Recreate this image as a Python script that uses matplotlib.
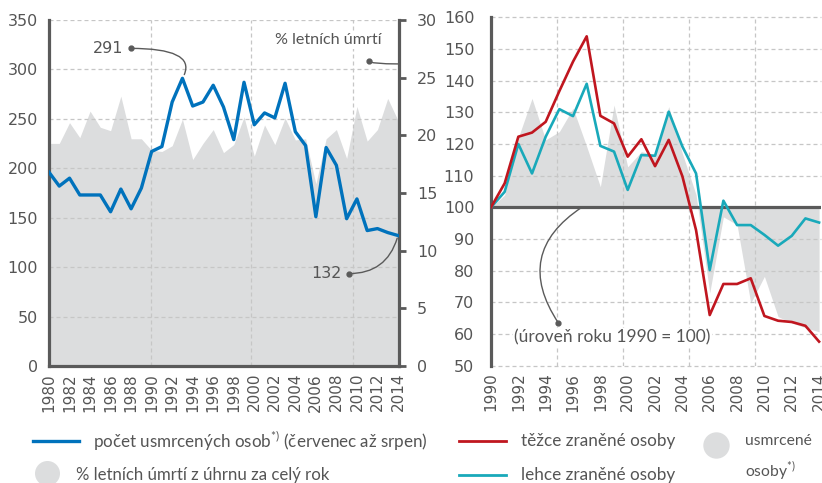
import matplotlib
matplotlib.use('Agg')
import matplotlib.pyplot as plt
from matplotlib.lines import Line2D

# ---------------- data ----------------
years_left = list(range(1980, 2015))
deaths_summer = [196, 182, 190, 173, 173, 173, 156, 179, 159, 180,
                 217, 222, 267, 291, 263, 267, 284, 262, 229, 287,
                 244, 256, 251, 286, 237, 223, 151, 221, 203, 149,
                 169, 137, 139, 135, 132]
pct_summer = [19.3, 19.3, 21.1, 19.8, 22.1, 20.7, 20.4, 23.4, 19.7, 19.7,
              18.7, 18.6, 19.1, 21.4, 17.9, 19.3, 20.5, 18.5, 19.2, 21.6,
              18.2, 20.9, 19.2, 21.5, 19.6, 19.7, 15.8, 19.7, 20.5, 18.0,
              22.5, 19.5, 20.5, 23.2, 21.3]

years_right = list(range(1990, 2015))
severe_idx = [100, 107.6, 122.3, 123.6, 127, 136.7, 146, 154, 128.9, 126.5,
              116, 121.5, 113, 121.3, 109.8, 92.8, 66, 75.8, 75.8, 77.6,
              65.7, 64.2, 63.8, 62.6, 57.6]
light_idx = [100, 104.9, 120, 110.7, 122.3, 131, 128.8, 139, 119.4, 117.6,
             105.5, 116.5, 116.3, 130.2, 119.2, 110.7, 80.2, 102.1, 94.4, 94.4,
             91.3, 87.9, 91, 96.5, 95.2]
killed_idx = [100, 103.9, 122, 134.4, 121.3, 123.9, 131.3, 119.2, 106.5, 132.3,
              112.8, 117.6, 116.5, 131.8, 117, 104, 73, 97, 94.5, 69.8,
              78.2, 65.5, 63.5, 62, 60.7]

left_yticks = list(range(0, 351, 50))
right2_yticks = list(range(0, 31, 5))
right_yticks = list(range(50, 161, 10))

# ---------------- style ----------------
W, H = 822, 483
TXT = '#555555'
SPINE = '#5a5a5a'
GRID = '#c6c6c6'
FILL = '#dcddde'
BLUE = '#0072bc'
RED = '#c0161f'
TEAL = '#19a9ba'
TEXTFONT = ['Lato', 'DejaVu Sans']
plt.rcParams['font.family'] = ['DejaVu Sans']
DASH = (0, (3.2, 2.4))

fig = plt.figure(figsize=(W / 100, H / 100), dpi=100)


def px_rect(x0, y_top, x1, y_bot):
    return [x0 / W, (H - y_bot) / H, (x1 - x0) / W, (y_bot - y_top) / H]


# ================= left chart =================
ax = fig.add_axes(px_rect(49, 20, 399, 366))
ax2 = ax.twinx()
ax.set_zorder(ax2.get_zorder() + 1)
ax.patch.set_visible(False)

ax2.fill_between(years_left, 0, pct_summer, color=FILL, lw=0, zorder=0)
ax2.set_ylim(0, 30)
ax.set_ylim(0, 350)
ax.set_xlim(1980, 2014.1)

for v in left_yticks[1:]:
    ax.axhline(v, color=GRID, lw=0.9, ls=DASH, zorder=1)
for f in (0.2915, 0.578, 0.868):
    ax.plot([f, f], [0, 1], transform=ax.transAxes, color=GRID, lw=0.9, ls=DASH, zorder=1)

ax.plot(years_left, deaths_summer, color=BLUE, lw=2.4, zorder=3)

for s in ('top', 'right'):
    ax.spines[s].set_visible(False)
for s in ('top', 'left', 'bottom'):
    ax2.spines[s].set_visible(False)
for s in ('left', 'bottom'):
    ax.spines[s].set_color(SPINE)
    ax.spines[s].set_linewidth(2.3)
ax2.spines['right'].set_color(SPINE)
ax2.spines['right'].set_linewidth(2.3)

ax.set_yticks(left_yticks)
ax.tick_params(axis='y', length=0, pad=8, labelsize=11.5, labelcolor=TXT)
ax.set_xticks(years_left[::2])
ax.set_xticklabels([str(y) for y in years_left[::2]], rotation=90)
ax.tick_params(axis='x', length=0, pad=5, labelsize=11, labelcolor=TXT)
ax2.set_yticks(right2_yticks)
ax2.tick_params(axis='y', length=5, width=2, color=SPINE, pad=8,
                labelsize=11.5, labelcolor=TXT)

# annotations (left)
ax.annotate('', xy=(years_left[13], deaths_summer[13]), xycoords='data',
            xytext=(0.233, 0.918), textcoords='axes fraction',
            arrowprops=dict(arrowstyle='-', color=SPINE, lw=1.0, shrinkA=0, shrinkB=3,
                            connectionstyle='angle3,angleA=0,angleB=60'), zorder=4)
ax.plot([0.233], [0.918], 'o', ms=3.5, color=SPINE, transform=ax.transAxes, zorder=5, clip_on=False)
ax.text(0.212, 0.918, '291', transform=ax.transAxes, ha='right', va='center',
        fontsize=11.5, color=TXT)

ax.annotate('', xy=(1.0, 0.873), xycoords='axes fraction',
            xytext=(0.913, 0.8815), textcoords='axes fraction',
            arrowprops=dict(arrowstyle='-', color=SPINE, lw=1.0, shrinkA=0, shrinkB=0,
                            connectionstyle='angle3,angleA=-60,angleB=0'), zorder=4)
ax.plot([0.913], [0.8815], 'o', ms=3.5, color=SPINE, transform=ax.transAxes, zorder=5)
t_pct = ax.text(0.95, 0.942, '% letních úmrtí', transform=ax.transAxes, ha='right', va='center',
                fontsize=12.5, color=TXT, family=TEXTFONT,
                bbox=dict(facecolor='white', edgecolor='none', pad=1.5), zorder=4)

ax.annotate('', xy=(years_left[-1], deaths_summer[-1]), xycoords='data',
            xytext=(0.857, 0.267), textcoords='axes fraction',
            arrowprops=dict(arrowstyle='-', color=SPINE, lw=1.0, shrinkA=0, shrinkB=2,
                            connectionstyle='angle3,angleA=0,angleB=75'), zorder=4)
ax.plot([0.857], [0.267], 'o', ms=3.5, color=SPINE, transform=ax.transAxes, zorder=5)
ax.text(0.835, 0.267, '132', transform=ax.transAxes, ha='right', va='center',
        fontsize=11.5, color=TXT)

# ================= right chart =================
axr = fig.add_axes(px_rect(491, 17.3, 821, 365.7))
axr.set_xlim(1990, 2014.14)
axr.set_ylim(50, 160)
axr.fill_between(years_right, 100, killed_idx, color=FILL, lw=0, zorder=0.5)
for v in right_yticks:
    if v != 100:
        axr.axhline(v, color=GRID, lw=0.9, ls=DASH, zorder=1, clip_on=False)
for f in (0.2, 0.4, 0.6, 0.8):
    axr.plot([f, f], [0, 1], transform=axr.transAxes, color=GRID, lw=0.9, ls=DASH, zorder=1)
axr.axhline(100, color=SPINE, lw=2.3, zorder=2.5)
axr.plot(years_right, light_idx, color=TEAL, lw=1.9, zorder=3)
axr.plot(years_right, severe_idx, color=RED, lw=1.9, zorder=3.2)

for s in ('top', 'right', 'bottom'):
    axr.spines[s].set_visible(False)
axr.spines['left'].set_color(SPINE)
axr.spines['left'].set_linewidth(2.3)
axr.set_yticks(right_yticks)
axr.tick_params(axis='y', length=0, pad=12, labelsize=11.5, labelcolor=TXT)
axr.set_xticks(years_right[::2])
axr.set_xticklabels([str(y) for y in years_right[::2]], rotation=90)
axr.tick_params(axis='x', length=0, pad=5, labelsize=11, labelcolor=TXT)

axr.annotate('', xy=(0.275, 100), xycoords=('axes fraction', 'data'),
             xytext=(0.204, 0.123), textcoords='axes fraction',
             arrowprops=dict(arrowstyle='-', color=SPINE, lw=1.0, shrinkA=0, shrinkB=0,
                             connectionstyle='arc3,rad=-0.5'), zorder=4)
axr.plot([0.204], [0.123], 'o', ms=3.5, color=SPINE, transform=axr.transAxes, zorder=5)
t_lvl = axr.text(0.07, 0.082, '(úroveň roku 1990 = 100)', transform=axr.transAxes,
                 ha='left', va='center', fontsize=12.5, color=TXT, family=TEXTFONT,
                 bbox=dict(facecolor='white', edgecolor='none', pad=1.0), zorder=4)

# ================= legends =================
def fy(y):
    return 1 - y / H


fig.add_artist(Line2D([33 / W, 79 / W], [fy(441)] * 2, color=BLUE, lw=2.4))
t1 = fig.text(93 / W, fy(441), 'počet usmrcených osob$^{\\mathregular{*)}}$ (červenec až srpen)',
              ha='left', va='center', fontsize=12.5, color=TXT, family=TEXTFONT)
fig.add_artist(Line2D([47 / W], [fy(473)], marker='o', ms=18, color=FILL, mec='none', lw=0))
t2 = fig.text(76 / W, fy(475), '% letních úmrtí z úhrnu za celý rok',
              ha='left', va='center', fontsize=12.5, color=TXT, family=TEXTFONT)

fig.add_artist(Line2D([459 / W, 506 / W], [fy(441)] * 2, color=RED, lw=2.0))
t3 = fig.text(521 / W, fy(441), 'těžce zraněné osoby', ha='left', va='center',
              fontsize=12.5, color=TXT, family=TEXTFONT)
fig.add_artist(Line2D([459 / W, 506 / W], [fy(475)] * 2, color=TEAL, lw=2.0))
t4 = fig.text(521 / W, fy(475), 'lehce zraněné osoby', ha='left', va='center',
              fontsize=12.5, color=TXT, family=TEXTFONT)
fig.add_artist(Line2D([716 / W], [fy(445)], marker='o', ms=19, color=FILL, mec='none', lw=0))
t5 = fig.text(745 / W, fy(441), 'usmrcené', ha='left', va='center',
              fontsize=12.5, color=TXT, family=TEXTFONT)
t6 = fig.text(745 / W, fy(471), 'osoby$^{\\mathregular{*)}}$', ha='left', va='center',
              fontsize=12.5, color=TXT, family=TEXTFONT)

# fit text widths to the reference
renderer = fig.canvas.get_renderer()
for t, target in ((t1, 334), (t2, 254), (t3, 155), (t4, 155), (t5, 67), (t_lvl, 196), (t_pct, 107)):
    w = t.get_window_extent(renderer).width
    t.set_fontsize(t.get_fontsize() * target / w)
t6.set_fontsize(t5.get_fontsize())

fig.savefig('out.png', dpi=100)
